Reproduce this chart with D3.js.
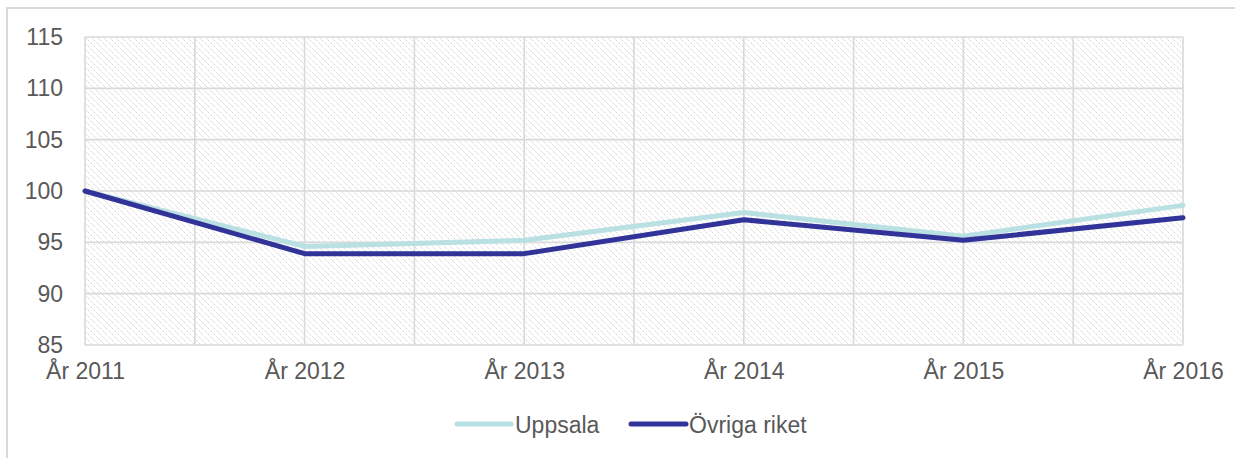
<!DOCTYPE html>
<html>
<head>
<meta charset="utf-8">
<script src="https://cdn.jsdelivr.net/npm/d3@7"></script>
<style>
  html, body { margin: 0; padding: 0; background: #fff; }
  svg { display: block; font-family: "Liberation Sans", Arial, sans-serif; }
</style>
</head>
<body>
<svg id="chart" width="1235" height="458"></svg>
<script>
const categories = ["År 2011", "År 2012", "År 2013", "År 2014", "År 2015", "År 2016"];
const uppsala = [100, 94.6, 95.2, 97.9, 95.6, 98.6];
const ovriga = [100, 93.9, 93.9, 97.2, 95.2, 97.4];
const yTicks = [85, 90, 95, 100, 105, 110, 115];
const seriesNames = ["Uppsala", "Övriga riket"];
const seriesColors = ["#b9e0e2", "#313399"];

const svg = d3.select("#chart");
const W = 1235, H = 458;
const m = { left: 85, right: 1183, top: 37, bottom: 345 };

// outer border
svg.append("rect").attr("x", 7).attr("y", 8).attr("width", W + 10).attr("height", H + 10)
  .attr("fill", "#fff").attr("stroke", "#d9d9d9").attr("stroke-width", 2);

// hatch pattern (light downward diagonal)
const defs = svg.append("defs");
const pat = defs.append("pattern").attr("id", "hatch").attr("patternUnits", "userSpaceOnUse")
  .attr("width", 6).attr("height", 6);
pat.append("rect").attr("width", 6).attr("height", 6).attr("fill", "#fff");
pat.append("path").attr("d", "M-1,-1 L7,7 M-1,5 L1,7 M5,-1 L7,1")
  .attr("stroke", "#d4d4d4").attr("stroke-width", 1).attr("stroke-dasharray", "2.2,1");

const x = d3.scaleLinear().domain([0, categories.length - 1]).range([m.left, m.right]);
const y = d3.scaleLinear().domain([85, 115]).range([m.bottom, m.top]);

svg.append("rect").attr("x", m.left).attr("y", m.top)
  .attr("width", m.right - m.left).attr("height", m.bottom - m.top)
  .attr("fill", "url(#hatch)");

// grid
const grid = svg.append("g").attr("stroke", "#d9d9d9").attr("stroke-width", 1.6);
grid.selectAll("line.h").data(yTicks).join("line")
  .attr("x1", m.left).attr("x2", m.right)
  .attr("y1", d => y(d)).attr("y2", d => y(d));
grid.selectAll("line.v").data(d3.range(0, categories.length - 0.99, 0.5)).join("line")
  .attr("y1", m.top).attr("y2", m.bottom)
  .attr("x1", d => x(d)).attr("x2", d => x(d));

// y axis labels
const yAxis = d3.axisLeft(y).tickValues(yTicks).tickSize(0).tickPadding(22);
const gy = svg.append("g").attr("transform", `translate(${m.left},0)`).call(yAxis);
gy.select(".domain").remove();
gy.selectAll("text").attr("fill", "#595959").attr("font-size", 23)
  .attr("font-family", "Liberation Sans, Arial, sans-serif");

// x axis labels
const xAxis = d3.axisBottom(x).tickValues(d3.range(categories.length))
  .tickFormat(i => categories[i]).tickSize(0).tickPadding(18);
const gx = svg.append("g").attr("transform", `translate(0,${m.bottom})`).call(xAxis);
gx.select(".domain").remove();
gx.selectAll("text").attr("fill", "#595959").attr("font-size", 23)
  .attr("font-family", "Liberation Sans, Arial, sans-serif");

// lines
const line = d3.line().x((d, i) => x(i)).y(d => y(d));
[uppsala, ovriga].forEach((s, k) => {
  svg.append("path").datum(s).attr("d", line)
    .attr("fill", "none").attr("stroke", seriesColors[k])
    .attr("stroke-width", 5).attr("stroke-linejoin", "round").attr("stroke-linecap", "round");
});

// legend
const legendItems = [
  { name: seriesNames[0], color: seriesColors[0], x0: 457, x1: 511, tx: 515 },
  { name: seriesNames[1], color: seriesColors[1], x0: 631, x1: 686, tx: 689 }
];
const lg = svg.append("g");
legendItems.forEach(it => {
  lg.append("line").attr("x1", it.x0).attr("x2", it.x1).attr("y1", 424).attr("y2", 424)
    .attr("stroke", it.color).attr("stroke-width", 5).attr("stroke-linecap", "round");
  lg.append("text").attr("x", it.tx).attr("y", 432.5).text(it.name)
    .attr("fill", "#595959").attr("font-size", 23);
});
</script>
</body>
</html>
